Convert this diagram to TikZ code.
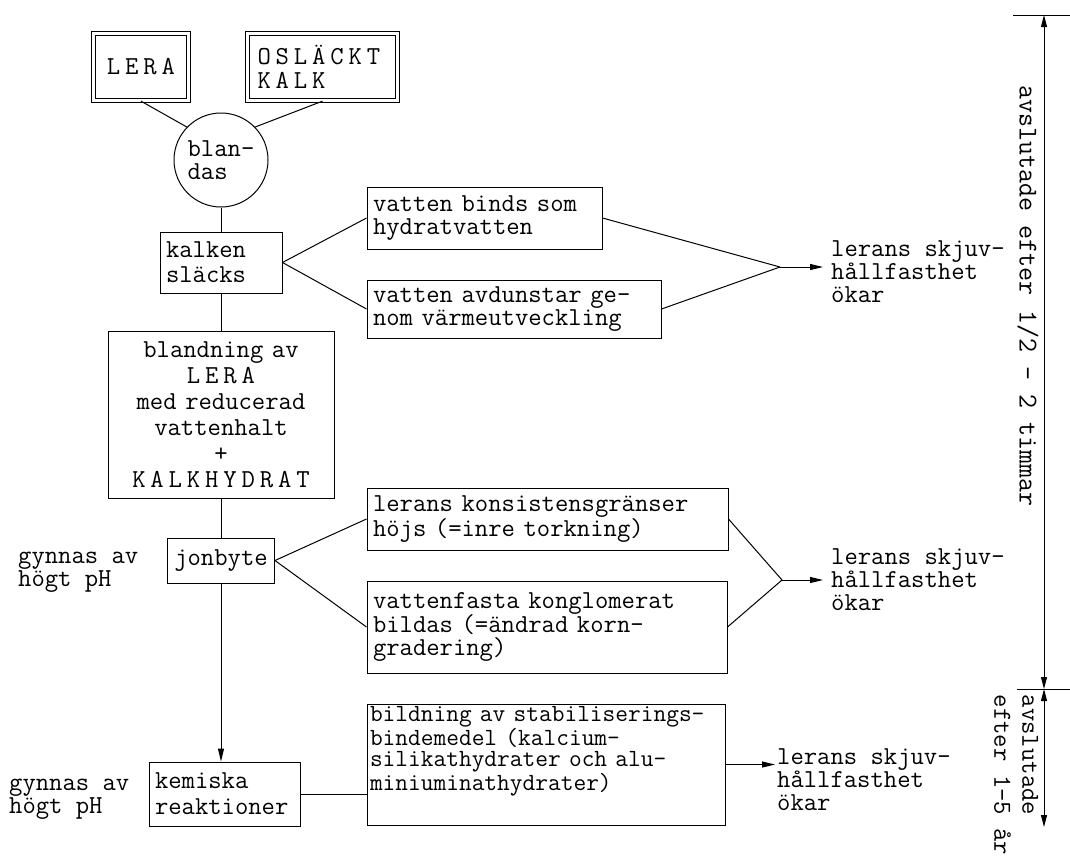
\documentclass[tikz,border=0pt]{standalone}
\usepackage{fontspec}
\newcommand{\tw}[1]{\ttfamily\fontsize{25.9}{#1}\selectfont}
% spread out capitals like the typewriter does
\def\versal#1{\versalx#1\relax\kern-4.9pt}
\def\versalx#1{\ifx#1\relax\else#1\kern4.9pt\expandafter\versalx\fi}
\usetikzlibrary{shapes.geometric, positioning, arrows.meta, calc}

\begin{document}
\begin{tikzpicture}[x=1pt, y=-1pt, font=\tw{23},
    box/.style={rectangle, draw, black, line width=1pt, align=left, inner xsep=6pt, inner ysep=0pt},
    dbox/.style={rectangle, draw, black, line width=0.8pt, double, double distance=3.2pt, align=left, inner ysep=0pt},
    blob/.style={circle, draw, black, line width=1pt, minimum size=94pt, inner sep=0pt, align=left},
    note/.style={align=left, inner sep=0pt},
    link/.style={draw, black, line width=1pt},
    arr/.style={link, -{Triangle[length=13pt, width=6pt]}},
    span/.style={link, {Triangle[length=12pt, width=6pt]}-{Triangle[length=12pt, width=6pt]}}]

    \useasboundingbox (0,0) rectangle (1070,857);

    % --- Raw materials ---
    \node[dbox, minimum width=95pt, minimum height=67.5pt, align=center] (lera) at (141,67) {\versal{LERA}};
    \node[dbox, text width=130pt, inner xsep=10pt, minimum height=67.5pt, font=\tw{24}] (oslackt) at (322.5,67) {\versal{OSLÄCKT}\\\versal{KALK}};
    \node[blob, font=\tw{23}] (blandas) at (221,160) {blan-\\das};
    \draw[link] (lera.south) -- (blandas.136);
    \draw[link] (oslackt.south) -- (blandas.44);

    % --- Slaking ---
    \node[box, text width=110pt, minimum height=61pt, font=\tw{25}] (kalken) at (221,262.5) {kalken\\släcks};
    \node[box, text width=223pt, minimum height=62pt] (binds) at (484.5,218) {vatten binds som\\hydratvatten};
    \node[box, text width=282pt, minimum height=58pt] (avdun) at (514,309) {vatten avdunstar ge-\\nom värmeutveckling};
    \coordinate (conv1) at (780,267);
    \node[note, anchor=west] (res1) at (831,272) {lerans skjuv-\\hållfasthet\\ökar};
    \draw[link] (blandas.south) -- (kalken.north);
    \draw[link] (kalken.east) -- (binds.west);
    \draw[link] (kalken.east) -- (avdun.west);
    \draw[link] (binds.east) -- (conv1);
    \draw[link] (avdun.east) -- (conv1);
    \draw[arr, shorten >=8pt] (conv1) -- (conv1 -| res1.west);

    % --- Mixture ---
    \node[box, text width=214pt, minimum height=167pt, align=center, font=\tw{26}] (mix) at (221,414.5) {blandning av\\\versal{LERA}\\med reducerad\\vattenhalt\\+\\\versal{KALKHYDRAT}};
    \draw[link] (kalken.south) -- (mix.north);

    % --- Ion exchange ---
    \node[box, text width=96pt, inner xsep=5.5pt, minimum height=45pt, align=center] (jonbyte) at (221,560.5) {jonbyte};
    \node[note, anchor=west] (gyn1) at (18,572) {gynnas av\\högt pH};
    \node[box, text width=349pt, minimum height=62pt] (kons) at (547.5,519) {lerans konsistensgränser\\höjs (=inre torkning)};
    \node[box, text width=348pt, minimum height=92pt] (fasta) at (547,627) {vattenfasta konglomerat\\bildas (=ändrad korn-\\gradering)};
    \coordinate (conv2) at (782,580);
    \node[note, anchor=west] (res2) at (831,580) {lerans skjuv-\\hållfasthet\\ökar};
    \draw[link] (mix.south) -- (jonbyte.north);
    \draw[link] (jonbyte.east) -- (kons.west);
    \draw[link] (jonbyte.east) -- (fasta.west);
    \draw[link] (kons.east) -- (conv2);
    \draw[link] (fasta.east) -- (conv2);
    \draw[arr, shorten >=8pt] (conv2) -- (conv2 -| res2.west);

    % --- Chemical reactions ---
    \node[box, text width=139pt, minimum height=64pt, font=\tw{26}] (kemiska) at (224.5,794) {kemiska\\reaktioner};
    \node[note, anchor=west] (gyn2) at (9,799) {gynnas av\\högt pH};
    \node[box, text width=352pt, inner xsep=3pt, minimum height=121pt, font=\ttfamily\fontsize{24.7}{21.5}\selectfont] (bind) at (546,764.5) {bildning av stabiliserings-\\bindemedel (kalcium-\\silikathydrater och alu-\\miniuminathydrater)\\[11pt]~};
    \node[note, anchor=west] (res3) at (777,780) {lerans skjuv-\\hållfasthet\\ökar};
    \draw[arr] (jonbyte.south) -- (jonbyte.south |- kemiska.north);
    \draw[link] (kemiska.east) -- (kemiska.east -| bind.west);
    \draw[arr, shorten >=2pt] (bind.east) -- (bind.east -| res3.west);

    % --- Time spans ---
    \coordinate (top_l) at (1013,15);
    \coordinate (top_r) at (1070,15);
    \coordinate (mid_l) at (1017,689);
    \coordinate (mid_r) at (1070,689);
    \coordinate (top_m) at (1044,15);
    \coordinate (mid_m) at (1044,689);
    \coordinate (bot_m) at (1044,827);
    \draw[link] (top_l) -- (top_r);
    \draw[link] (mid_l) -- (mid_r);
    \draw[span] (top_m) -- (mid_m);
    \draw[span] (mid_m) -- (bot_m);
    \node[note, rotate=-90, font=\ttfamily\fontsize{27.2}{24}\selectfont] (phase1) at (1028,296) {avslutade efter 1/2 - 2 timmar};
    \node[note, rotate=-90, font=\tw{28}] (phase2) at (1016,775) {avslutade\\efter 1-5 år};

\end{tikzpicture}
\end{document}
